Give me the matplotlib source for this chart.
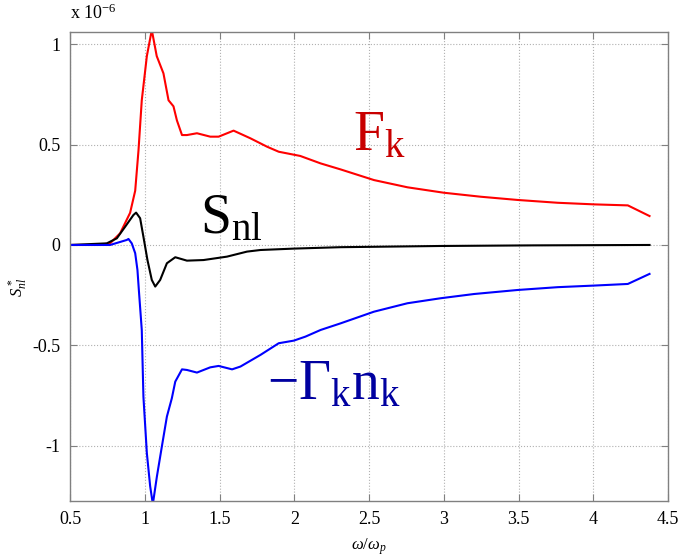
import numpy as np
import matplotlib
matplotlib.use("Agg")
import matplotlib.pyplot as plt

plt.rcParams['font.family'] = ['Liberation Serif', 'DejaVu Serif']
plt.rcParams['mathtext.fontset'] = 'custom'
plt.rcParams['mathtext.rm'] = 'Liberation Serif'
plt.rcParams['mathtext.it'] = 'Liberation Serif:italic'
plt.rcParams['axes.unicode_minus'] = False

# frequency (omega / omega_p) and source terms, in units of 1e-6
w_f = [0.5, 0.68, 0.768, 0.835, 0.902, 0.936, 0.958, 0.98, 1.014, 1.047, 1.08,
       1.125, 1.159, 1.192, 1.215, 1.249, 1.282, 1.349, 1.438, 1.494, 1.594,
       1.706, 1.818, 1.896, 2.04, 2.176, 2.31, 2.533, 2.757, 3.0, 3.248,
       3.494, 3.762, 4.007, 4.231, 4.376]
f_k = [0.0, 0.0, 0.008, 0.058, 0.16, 0.27, 0.47, 0.72, 0.94, 1.07, 0.94,
       0.854, 0.72, 0.69, 0.62, 0.547, 0.547, 0.556, 0.539, 0.539, 0.569,
       0.531, 0.489, 0.464, 0.443, 0.406, 0.376, 0.323, 0.287, 0.26, 0.24,
       0.224, 0.21, 0.202, 0.197, 0.144]

w_s = [0.5, 0.746, 0.813, 0.869, 0.924, 0.942, 0.969, 0.991, 1.018, 1.047,
       1.07, 1.103, 1.148, 1.204, 1.282, 1.393, 1.55, 1.684, 1.774, 2.0,
       2.31, 2.98, 3.6, 4.376]
s_nl = [0.0, 0.008, 0.033, 0.091, 0.149, 0.161, 0.133, 0.041, -0.075, -0.174,
        -0.207, -0.174, -0.091, -0.061, -0.078, -0.075, -0.058, -0.033,
        -0.025, -0.018, -0.011, -0.005, -0.002, 0.0]

w_g = [0.5, 0.768, 0.88, 0.891, 0.913, 0.936, 0.951, 0.962, 0.98, 0.991,
       1.014, 1.036, 1.054, 1.081, 1.115, 1.148, 1.181, 1.204, 1.249, 1.282,
       1.349, 1.438, 1.494, 1.584, 1.64, 1.774, 1.896, 1.997, 2.075, 2.176,
       2.31, 2.533, 2.757, 2.98, 3.203, 3.494, 3.762, 4.007, 4.231, 4.376]
gamma_n = [0.0, 0.0, 0.025, 0.03, 0.008, -0.041, -0.124, -0.24, -0.423,
           -0.755, -1.036, -1.2, -1.29, -1.153, -1.0, -0.854, -0.763, -0.68,
           -0.619, -0.622, -0.635, -0.609, -0.602, -0.619, -0.605, -0.547,
           -0.489, -0.476, -0.456, -0.423, -0.39, -0.332, -0.29, -0.265,
           -0.244, -0.224, -0.21, -0.202, -0.194, -0.144]

x_ticks = [0.5, 1, 1.5, 2, 2.5, 3, 3.5, 4, 4.5]
y_ticks = [-1, -0.5, 0, 0.5, 1]

fig = plt.figure(figsize=(6.81, 5.58), dpi=100)
ax = fig.add_axes([0.1028, 0.1022, 0.8782, 0.8405])

ax.plot(w_f, f_k, color='#ff0000', lw=1.5)
ax.plot(w_s, s_nl, color='black', lw=1.5)
ax.plot(w_g, gamma_n, color='#0000ff', lw=1.5)

ax.set_xlim(0.5, 4.5)
ax.set_ylim(-1.274, 1.06)
ax.set_xticks(x_ticks)
ax.set_xticklabels(['0.5', '1', '1.5', '2', '2.5', '3', '3.5', '4', '4.5'])
ax.set_yticks(y_ticks)
ax.set_yticklabels(['-1', '-0.5', '0', '0.5', '1'])
ax.tick_params(direction='in', length=5, width=0.8, color='#808080',
               top=True, right=True, labelsize=13, pad=7)
ax.grid(True, linestyle=':', color='#b0b0b0', lw=0.8)
for s in ax.spines.values():
    s.set_color('#808080')
    s.set_linewidth(1.0)

ax.set_xlabel(r'$\omega/\omega_p$', fontsize=12, labelpad=6)
ax.set_ylabel(r'$S^*_{nl}$', fontsize=12)
ax.yaxis.set_label_coords(-0.068, 0.455)
fig.text(0.1028, 0.958, r'x 10$^{-6}$', fontsize=13, ha='left', va='bottom')

# curve labels
ax.text(2.39, 0.47, r'$\mathrm{F_k}$', fontsize=40, color='#c80000')
ax.text(1.37, 0.06, r'$\mathrm{S_{nl}}$', fontsize=40, color='black')
ax.text(1.82, -0.77, r'$\mathrm{-\Gamma_k n_k}$', fontsize=40, color='#0000a0')

fig.savefig('out.png', dpi=100)
